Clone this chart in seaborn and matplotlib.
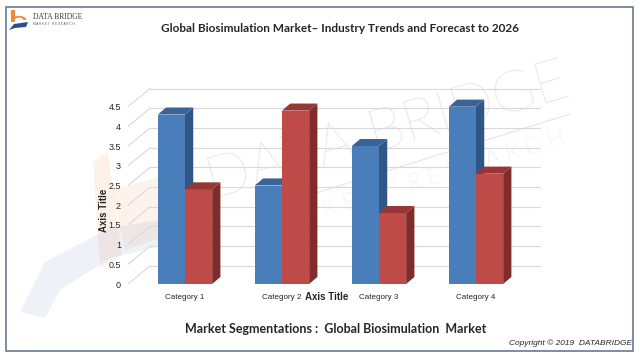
import pandas as pd
import matplotlib
matplotlib.use("Agg")
import matplotlib.pyplot as plt
import seaborn as sns
from matplotlib.patches import Polygon, Rectangle, Wedge

categories = ["Category 1", "Category 2", "Category 3", "Category 4"]
series_1 = [4.3, 2.5, 3.5, 4.5]
series_2 = [2.4, 4.4, 1.8, 2.8]
y_ticks = [0, 0.5, 1, 1.5, 2, 2.5, 3, 3.5, 4, 4.5]
y_tick_labels = ["0", "0.5", "1", "1.5", "2", "2.5", "3", "3.5", "4", "4.5"]

df = pd.DataFrame({
    "category": categories * 2,
    "series": ["Series 1"] * len(categories) + ["Series 2"] * len(categories),
    "value": series_1 + series_2,
})

front = {"Series 1": "#4a7ebb", "Series 2": "#be4b48"}
side = {"Series 1": "#2f5684", "Series 2": "#7f2c2a"}
top = {"Series 1": "#3a6396", "Series 2": "#963735"}

sns.set_style("white")
plt.rcParams['font.family'] = ['Liberation Sans', 'DejaVu Sans']

W, H = 640, 360
fig = plt.figure(figsize=(6.4, 3.6), dpi=100)


def fx(x):
    return x / W


def fy(y):
    return 1 - y / H


# faint watermark behind the chart
fig.text(fx(388), fy(132), "DATA BRIDGE", fontsize=42, color="#cfcfcf", alpha=0.75,
         rotation=16, ha="center", va="center", family="Lato", weight="light", zorder=-5)
fig.text(fx(410), fy(185), "M A R K E T     R E S E A R C H", fontsize=17, color="#cfcfcf",
         alpha=0.75, rotation=17, ha="center", va="center", family="Lato", weight="light",
         zorder=-5)
fig.add_artist(plt.Line2D([fx(300), fx(570)], [fy(198), fy(114)], color="#f0e2d8",
                          lw=0.8, zorder=-5))
fig.add_artist(Polygon([(fx(93), fy(162)), (fx(108), fy(152)), (fx(122), fy(255)),
                        (fx(100), fy(268))], closed=True, color="#f7a468", alpha=0.15,
                       lw=0, zorder=-6))
fig.add_artist(Polygon([(fx(112), fy(190)), (fx(165), fy(175)), (fx(170), fy(235)),
                        (fx(125), fy(250))], closed=True, color="#f7a468", alpha=0.12,
                       lw=0, zorder=-6))
fig.add_artist(Polygon([(fx(20), fy(312)), (fx(45), fy(262)), (fx(110), fy(228)),
                        (fx(190), fy(215)), (fx(185), fy(240)), (fx(110), fy(258)),
                        (fx(60), fy(290)), (fx(45), fy(318))], closed=True,
                       color="#8a9cc8", alpha=0.14, lw=0, zorder=-6))

ax = fig.add_axes([fx(128), fy(284), (545 - 128) / W, (284 - 86) / H])
ax.patch.set_alpha(0)

sns.barplot(data=df, x="category", y="value", hue="series", palette=front,
            width=0.56, saturation=1, legend=False, ax=ax, zorder=3)

x_left = (128 - 185) / 97
x_right = (545 - 185) / 97
ax.set_xlim(x_left, x_right)
ax.set_ylim(0, 198 / 39.4)

# back wall and side wall gridlines
wall_dx, wall_dy = 0.227, 0.46
back_right = (540 - 185) / 97
for yv in y_ticks:
    ax.plot([x_left, x_left + wall_dx], [yv, yv + wall_dy], color="#d9d9d9", lw=0.8, zorder=1)
    ax.plot([x_left + wall_dx, back_right], [yv + wall_dy, yv + wall_dy], color="#d9d9d9",
            lw=0.8, zorder=1)

# 3d faces on the bars
dx, dy = 0.085, 0.18
bars = []
for name, cont in zip(["Series 1", "Series 2"], ax.containers):
    for p in cont:
        bars.append((p.get_x(), name, p))
bars.sort(key=lambda b: b[0])
for i, (x0, name, p) in enumerate(bars):
    w, h = p.get_width(), p.get_height()
    z = 3 + i
    p.set_zorder(z)
    p.set_edgecolor("none")
    ax.add_patch(Polygon([(x0 + w, 0), (x0 + w + dx, dy), (x0 + w + dx, h + dy), (x0 + w, h)],
                         closed=True, color=side[name], lw=0, zorder=z))
    ax.add_patch(Polygon([(x0, h), (x0 + dx, h + dy), (x0 + w + dx, h + dy), (x0 + w, h)],
                         closed=True, color=top[name], lw=0, zorder=z))

ax.set_yticks(y_ticks)
ax.set_yticklabels(y_tick_labels, fontsize=6.5)
ax.tick_params(axis="y", length=0, pad=5)
ax.tick_params(axis="x", length=0, pad=7, labelsize=5.8)
ax.set_xlabel("")
ax.set_ylabel("")
sns.despine(ax=ax, left=True, bottom=True)

fig.text(fx(327), fy(297), "Axis Title", fontsize=7, weight="bold", ha="center", va="center")
fig.text(fx(104), fy(210), "Axis Title", fontsize=7, weight="bold", ha="center", va="center",
         rotation=90)

fig.text(fx(340), fy(28), "Global Biosimulation Market\u2013 Industry Trends and Forecast to 2026",
         fontsize=8.5, weight="bold", ha="center", va="center", family="Lato")
fig.text(fx(336), fy(329), "Market Segmentations :  Global Biosimulation  Market",
         fontsize=9, weight="bold", ha="center", va="center", family="Lato")
fig.text(fx(632), fy(343), "Copyright \u00a9 2019  DATABRIDGE", fontsize=6, style="italic",
         ha="right", va="center")

# logo
fig.add_artist(Rectangle((fx(11), fy(22)), 4 / W, 12 / H, color="#ef8a3c", lw=0))
fig.add_artist(Wedge((fx(19), fy(20)), 0.0115, 0, 180, width=0.005, color="#ef8a3c", lw=0))
fig.add_artist(Polygon([(fx(9), fy(30)), (fx(14), fy(24)), (fx(28), fy(22)), (fx(26), fy(27)),
                        (fx(15), fy(28))], closed=True, color="#2a4f8f", lw=0))
fig.text(fx(33), fy(17), "DATA BRIDGE", fontsize=5.5, color="#3b3b3b", va="center",
         family="Liberation Serif")
fig.text(fx(33), fy(24), "M A R K E T   R E S E A R C H", fontsize=2.2, color="#555555",
         va="center")

# frame
fig.add_artist(Rectangle((fx(6), fy(351)), 627 / W, 344 / H, fill=False, edgecolor="#5b6e84",
                         lw=1.1))

fig.savefig("out.png", dpi=100)
